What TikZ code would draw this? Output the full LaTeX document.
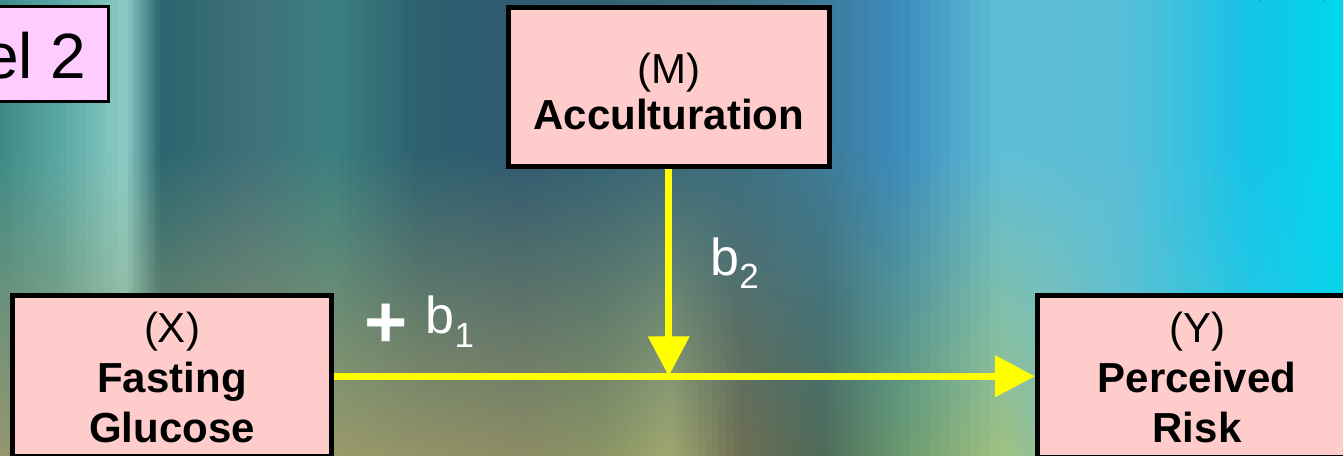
\documentclass[tikz,border=0pt]{standalone}
\usepackage{fontspec}
\setmainfont{Liberation Sans}
\usetikzlibrary{arrows.meta}

\definecolor{boxpink}{HTML}{FFCCCC}
\definecolor{modelpink}{HTML}{FFCCFF}
\definecolor{arrowyellow}{HTML}{FFFF00}

% upper colours at x = 0,60,125,160,250,330,420,520,600,670,740,820,900,1000,1050,1120,1250,1343
\definecolor{cT0}{HTML}{3D8A86}
\definecolor{cT1}{HTML}{5AA8A5}
\definecolor{cT2}{HTML}{8CCDC6}
\definecolor{cT3}{HTML}{2A6670}
\definecolor{cT4}{HTML}{40707A}
\definecolor{cT5}{HTML}{3A8080}
\definecolor{cT6}{HTML}{2D6070}
\definecolor{cT7}{HTML}{2E5A70}
\definecolor{cT8}{HTML}{336174}
\definecolor{cT9}{HTML}{386777}
\definecolor{cT10}{HTML}{3B6F82}
\definecolor{cT11}{HTML}{3D7A96}
\definecolor{cT12}{HTML}{3C8CBE}
\definecolor{cT13}{HTML}{5FBED7}
\definecolor{cT14}{HTML}{5DBED7}
\definecolor{cT15}{HTML}{5ABED8}
\definecolor{cT16}{HTML}{14C3E8}
\definecolor{cT17}{HTML}{00D8EE}
% lower colours at the same x
\definecolor{cB0}{HTML}{96966E}
\definecolor{cB1}{HTML}{8F9669}
\definecolor{cB2}{HTML}{9AAE88}
\definecolor{cB3}{HTML}{8E976A}
\definecolor{cB4}{HTML}{94986A}
\definecolor{cB5}{HTML}{9A9A6A}
\definecolor{cB6}{HTML}{939367}
\definecolor{cB7}{HTML}{8C8C64}
\definecolor{cB8}{HTML}{8A9464}
\definecolor{cB9}{HTML}{A0A870}
\definecolor{cB10}{HTML}{6E6E52}
\definecolor{cB11}{HTML}{4E6A58}
\definecolor{cB12}{HTML}{6A9A6E}
\definecolor{cB13}{HTML}{A0C080}
\definecolor{cB14}{HTML}{90C0A0}
\definecolor{cB15}{HTML}{64C2C8}
\definecolor{cB16}{HTML}{30CAE2}
\definecolor{cB17}{HTML}{10D0EA}

\tikzset{
  varbox/.style={draw=black, fill=boxpink, line width=2.5pt, inner sep=0pt},
  modelbox/.style={draw=black, fill=modelpink, line width=1.5pt, inner sep=0pt},
  boxtext/.style={inner sep=0pt, anchor=base, font=\fontsize{21pt}{25pt}\selectfont},
  boxbold/.style={inner sep=0pt, anchor=base, font=\fontsize{21pt}{25pt}\selectfont\bfseries},
  pathlabel/.style={inner sep=0pt, anchor=base west, text=white, font=\fontsize{26pt}{30pt}\selectfont},
  yarrow/.style={draw=arrowyellow, line width=3.6pt, -{Triangle[length=20pt,width=20pt]}}
}

\begin{document}
\begin{tikzpicture}[x=0.5pt,y=-0.5pt]
\useasboundingbox (0,0) rectangle (1343,455);
\clip (0,0) rectangle (1343,455);

% background: narrow columns, constant at the top, fading down to the lower colours
\foreach \xa/\xb/\ta/\tb/\ba/\bb in {
  0/60/cT0/cT1/cB0/cB1, 60/125/cT1/cT2/cB1/cB2, 125/160/cT2/cT3/cB2/cB3,
  160/250/cT3/cT4/cB3/cB4, 250/330/cT4/cT5/cB4/cB5, 330/420/cT5/cT6/cB5/cB6,
  420/520/cT6/cT7/cB6/cB7, 520/600/cT7/cT8/cB7/cB8, 600/670/cT8/cT9/cB8/cB9,
  670/740/cT9/cT10/cB9/cB10, 740/820/cT10/cT11/cB10/cB11, 820/900/cT11/cT12/cB11/cB12,
  900/1000/cT12/cT13/cB12/cB13, 1000/1050/cT13/cT14/cB13/cB14, 1050/1120/cT14/cT15/cB14/cB15,
  1120/1250/cT15/cT16/cB15/cB16, 1250/1343/cT16/cT17/cB16/cB17} {
  \foreach \s in {0,...,9} {
    \pgfmathsetmacro\xl{\xa+(\xb-\xa)*\s/10}
    \pgfmathsetmacro\xr{\xa+(\xb-\xa)*(\s+1)/10+1}
    \pgfmathtruncatemacro\p{(\s+0.5)/10*100}
    \fill[top color=\tb!\p!\ta, bottom color=\bb!\p!\ba, middle color=\tb!\p!\ta]
      (\xl,-155) rectangle (\xr,456);
  }
}

% boxes
\node[modelbox, minimum width=79.25pt, minimum height=47.5pt] (model) at (29.25,53.5) {};
\node[inner sep=0pt, anchor=base east, font=\fontsize{32pt}{36pt}\selectfont] (modeltext) at (87,78) {el 2};

\node[varbox, minimum width=160.25pt, minimum height=79.5pt] (M) at (668.75,87) {};
\node[boxtext] (Mtop) at (668.75,83) {(M)};
\node[boxbold] (Mname) at (668.75,129) {Acculturation};

\node[varbox, minimum width=159.25pt, minimum height=80.5pt] (X) at (171.75,376.25) {};
\node[boxtext] (Xtop) at (172,342) {(X)};
\node[boxbold] (Xname1) at (172,392) {Fasting};
\node[boxbold] (Xname2) at (172,442) {Glucose};

\node[varbox, minimum width=181.25pt, minimum height=80.75pt] (Y) at (1218.75,376.25) {};
\node[boxtext] (Ytop) at (1197,342) {(Y)};
\node[boxbold] (Yname1) at (1197,392) {Perceived};
\node[boxbold] (Yname2) at (1197,442) {Risk};

% connectors
\coordinate (J) at (M.south |- X.east);
\draw[yarrow] (X.east) -- (Y.west);
\draw[yarrow] (M.south) -- (J);

% labels
\node[pathlabel] (b1) at (364,333) {{\bfseries\raisebox{-7.25pt}{\fontsize{37pt}{37pt}\selectfont +}}\hspace{9pt}b\raisebox{-7pt}{\fontsize{17.5pt}{20pt}\selectfont 1}};
\node[pathlabel] (b2) at (710,275) {b\raisebox{-6.5pt}{\fontsize{17.5pt}{20pt}\selectfont 2}};
\end{tikzpicture}
\end{document}
